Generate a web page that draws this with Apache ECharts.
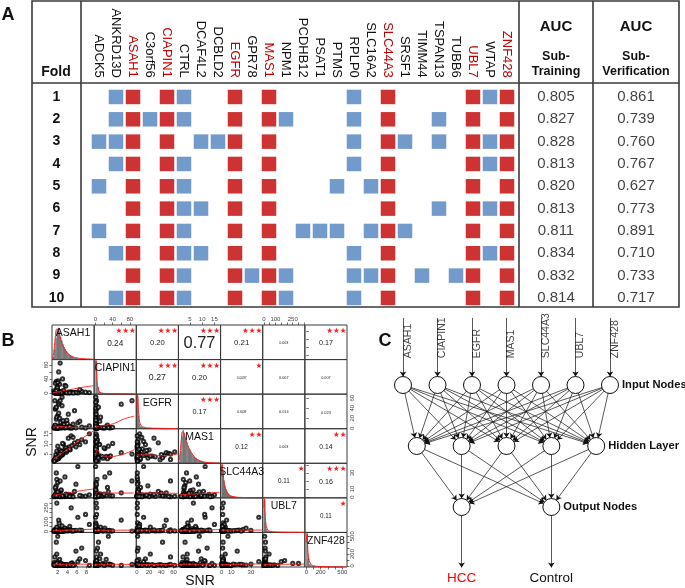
<!DOCTYPE html>
<html><head><meta charset="utf-8">
<script src="https://cdn.jsdelivr.net/npm/echarts@6/dist/echarts.min.js"></script>
<style>html,body{margin:0;padding:0;background:#fff}#c{width:685px;height:588px}</style>
</head><body><div id="c"></div>
<script>
// ---------------- Panel A data ----------------
const genes = ['ADCK5','ANKRD13D','ASAH1','C3orf56','CIAPIN1','CTRL','DCAF4L2','DCBLD2','EGFR','GPR78','MAS1','NPM1','PCDHB12','PSAT1','PTMS','RPLP0','SLC16A2','SLC44A3','SRSF1','TIMM44','TSPAN13','TUBB6','UBL7','WTAP','ZNF428'];
const coreGenes = ['ASAH1','CIAPIN1','EGFR','MAS1','SLC44A3','UBL7','ZNF428'];
const folds = ['1','2','3','4','5','6','7','8','9','10'];
const extraGenesByFold = [
  ['ANKRD13D','CTRL','RPLP0','WTAP'],
  ['ANKRD13D','C3orf56','CTRL','NPM1','RPLP0','TSPAN13'],
  ['ADCK5','ANKRD13D','DCAF4L2','DCBLD2','RPLP0','SRSF1','TSPAN13','WTAP'],
  ['ANKRD13D','CTRL','RPLP0','WTAP'],
  ['ADCK5','CTRL','PTMS','SLC16A2'],
  ['CTRL','DCAF4L2','TSPAN13','WTAP'],
  ['ADCK5','CTRL','PCDHB12','PSAT1','PTMS','SLC16A2','SRSF1'],
  ['ANKRD13D','CTRL','DCAF4L2','RPLP0','WTAP'],
  ['CTRL','GPR78','NPM1','RPLP0','SLC16A2','TIMM44','TUBB6'],
  ['ANKRD13D','CTRL','NPM1','RPLP0']
];
const aucColumns = ['Training','Verification'];
const aucTraining = [0.805,0.827,0.828,0.813,0.820,0.813,0.811,0.834,0.832,0.814];
const aucVerification = [0.861,0.739,0.760,0.767,0.627,0.773,0.891,0.710,0.733,0.717];

// ---------------- Panel B data (SNR per sample, read approximately) ----------------
const snrASAH1 = [1.5,1.8,2.0,1.6,2.2,1.9,1.4,2.4,1.7,2.1, 2.6,1.8,1.3,2.3,2.0,1.6,2.8,1.9,2.2,1.5,
  3.0,2.1,1.7,2.5,1.2,2.9,2.0,1.8,3.3,2.4, 1.6,2.2,3.6,1.9,2.7,1.4,2.3,4.0,1.7,2.6,
  3.1,2.0,4.4,1.8,3.4,2.5,5.0,2.2,3.8,1.5, 4.6,2.8,5.5,3.2,6.2,2.1,4.2,7.0,3.5,2.9,
  1.9,8.6,2.4,5.8,3.0,1.6,4.8,2.7,6.6,1.3, 2.2,3.7,1.8,5.2,2.5,7.8,3.9,2.0,4.5,1.7];
const snrCIAPIN1 = [1.2,0.8,2.5,0.5,1.8,3.0,0.9,1.5,4.2,0.6, 2.0,1.1,0.7,3.5,1.4,0.4,2.8,1.0,5.5,1.7,
  0.9,2.3,1.3,0.6,6.5,1.9,0.8,3.8,1.2,25, 1.6,0.5,2.1,18,1.0,2.6,0.7,1.4,33,0.9,
  3.2,1.2,0.6,12,2.0,0.8,1.5,60,1.1,28, 2.4,0.7,1.3,8,0.5,35,1.8,4.8,22,0.9,
  15,1.4,0.6,2.2,40,1.0,3.0,0.8,10,1.6, 0.7,20,1.9,0.5,85,2.7,1.1,30,0.6,7];
const snrEGFR = [1.0,2.2,0.6,3.5,1.4,0.8,5.0,1.8,0.5,2.6, 12,1.2,0.7,3.0,25,1.6,0.9,4.2,1.1,38,
  2.0,0.6,18,1.3,0.8,45,2.4,1.0,7.5,3.2, 0.9,30,1.5,0.5,2.8,55,1.1,9,0.7,2.1,
  15,1.9,0.6,22,1.2,3.8,0.8,48,1.4,6, 2.5,0.7,35,1.6,11,0.9,28,2.0,0.5,62,
  1.3,4.5,20,0.8,1.7,40,0.6,2.9,14,1.0, 52,1.5,0.9,8,55,0.6,16,1.2,3.6,42];
const snrMAS1 = [2.2,3.1,2.8,3.0,4.0,2.5,2.0,4.5,3.3,2.9, 4.2,2.4,1.8,3.6,3.9,2.6,5.0,3.2,2.7,2.1,
  5.5,3.4,2.9,4.8,1.6,4.4,3.0,2.3,6.2,3.8, 2.5,3.5,6.0,2.8,5.2,2.2,4.1,7.5,3.6,4.6,
  4.9,3.3,8.5,3.9,6.6,3.7,9.2,5.6,5.8,2.6, 7.0,4.5,10.5,9.8,11.2,4.0,12.8,12.0,7.6,6.0,
  3.8,15.0,7.0,8.5,10.2,4.6,14.0,6.3,9.6,1.4, 5.2,8.0,6.4,13.2,4.9,11.0,6.7,8.8,7.3,3.0];
const snrSLC44A3 = [1.5,0.8,2.4,1.1,3.2,0.6,1.9,4.5,0.9,2.7, 1.3,6.0,0.7,2.0,1.6,10,0.5,3.5,1.2,2.2,
  0.8,1.7,14,2.9,0.6,1.4,4.0,22,1.0,1.8, 3.0,0.9,2.3,1.2,8,0.5,1.6,2.6,30,0.7,
  1.9,18,1.1,3.8,0.6,2.1,1.4,5.2,0.8,12, 2.5,1.0,7,0.7,38,1.7,3.3,1.2,25,0.9,
  1.3,2.8,0.6,16,1.5,4.8,0.8,9,2.0,1.1, 0.7,3.6,1.8,0.5,20,1.2,2.4,6.5,0.9,1.6];
const snrUBL7 = [8,4,15,6,12,3,20,9,5,18, 11,7,2,25,10,5,14,40,6,9,
  4,16,8,12,3,60,7,22,10,5, 13,6,30,4,9,18,90,5,11,7,
  3,14,8,45,6,10,4,120,12,8, 20,5,9,7,150,3,16,11,35,6,
  9,75,4,13,7,10,250,5,15,8, 6,12,300,9,4,180,11,7,55,14];
const snrZNF428 = [15,30,8,22,12,45,6,18,35,10, 25,9,60,14,20,7,38,11,28,16,
  12,80,19,5,26,10,33,15,8,110, 21,6,14,40,9,150,17,12,30,7,
  11,24,8,200,16,13,50,6,19,28, 9,35,18,12,70,22,5,300,14,10,
  27,8,13,250,11,17,40,6,120,15, 18,10,40,7,23,90,12,500,16,400];
const snrSamples = [snrASAH1, snrCIAPIN1, snrEGFR, snrMAS1, snrSLC44A3, snrUBL7, snrZNF428];

const axisRanges = [[0.8,9.6],[-3,95],[-1,68],[0.3,17.5],[-1,42],[-10,355],[-20,565]];
const tickValues = [[2,4,6,8],[0,20,40,60,80],[0,20,40,60],[5,10,15],[0,10,20,30,40],[0,50,100,150,200,250,300,350],[0,100,200,300,400,500]];
const tickLabels = [[2,4,6,8],[0,40,80],[0,20,40,60],[5,10,15],[0,10,30],[0,100,250],[0,200,500]];

const histStart = [1.0,0,0,0.5,0,0,0];
const histWidth = [0.25,4,2,0.5,1,10,20];
const histMax = [100,220,190,115,160,210,210];
const histASAH1 = [8,30,62,85,92,80,66,55,44,36,30,24,19,15,12,10,8,6,5,4,3,3,2,2,2,1,1,1,1,1,0,1];
const histCIAPIN1 = [210,45,15,8,5,4,3,2,2,1,1,1,1,1,0,1,0,0,1,0,0,1];
const histEGFR = [180,70,25,12,8,6,5,4,3,3,2,2,2,1,1,1,1,1,1,1,1,1,0,1,0,1,0,1,0,1,1,0,1,0];
const histMAS1 = [5,40,90,110,100,85,70,58,48,40,33,27,22,18,15,12,10,8,6,5,4,3,3,2,2,1,1,1,1,1,1,0,1,0];
const histSLC44A3 = [150,120,80,55,40,30,22,16,12,9,7,6,5,4,3,3,2,2,2,1,1,1,1,1,1,0,1,0,0,1,0,1,0,0,1,0,0,0,1,0,1];
const histUBL7 = [200,60,20,10,6,4,3,2,2,1,1,1,1,0,1,0,1,0,0,1,0,0,1,0,0,1,0,0,0,1];
const histZNF428 = [200,50,18,9,6,4,3,2,2,1,1,1,1,0,1,0,0,1,0,0,1,0,0,0,1];
const histCounts = [histASAH1,histCIAPIN1,histEGFR,histMAS1,histSLC44A3,histUBL7,histZNF428];

const densityASAH1 = [[0.9,2],[1.2,25],[1.5,65],[1.8,88],[2.1,85],[2.4,70],[2.8,50],[3.2,36],[3.6,26],[4,19],[4.5,13],[5,9],[6,5],[7,3],[8,2],[9.5,1]];
const densityCIAPIN1 = [[0,150],[1,215],[3,120],[6,40],[10,15],[20,5],[40,2],[60,1],[92,0.5]];
const densityEGFR = [[0,120],[1,185],[3,80],[5,30],[8,14],[12,8],[20,4],[40,2],[67,1]];
const densityMAS1 = [[0.5,5],[1,35],[1.5,80],[2,105],[2.5,102],[3,88],[4,62],[5,44],[6,30],[7,20],[8,13],[10,6],[12,3],[15,1],[17,0.5]];
const densitySLC44A3 = [[0,100],[0.5,155],[1.5,120],[3,60],[5,32],[8,13],[12,6],[20,2],[41,0.5]];
const densityUBL7 = [[0,150],[5,205],[15,70],[30,20],[60,6],[100,3],[200,1],[350,0.5]];
const densityZNF428 = [[0,150],[10,205],[30,60],[60,20],[100,8],[200,3],[560,0.5]];
const densityLines = [densityASAH1,densityCIAPIN1,densityEGFR,densityMAS1,densitySLC44A3,densityUBL7,densityZNF428];

// smoothed fit lines for lower panels, row-major (row, col) with col < row
const fitLines = [
  [[1,1],[2,3],[3,6],[5,11],[7,16],[9.5,21]],
  [[1,4],[2,4],[3,3],[5,2],[7,1.5],[9.5,1]],
  [[0,2],[10,4],[25,6],[45,10],[65,18],[90,24]],
  [[1,2.2],[3,5.5],[5,9],[7,12.5],[9.5,16.5]],
  [[0,4],[5,7],[12,5],[25,3.5],[50,4],[90,7]],
  [[0,4.5],[20,4.5],[40,4],[67,5]],
  [[1,2.5],[3,4],[5,6],[7,8],[9.5,10]],
  [[0,2],[8,7],[20,5],[50,5],[90,5]],
  [[0,5],[30,5],[67,4.5]],
  [[0.5,3],[8,4],[17,6]],
  [[1,10],[5,15],[9.5,25]],
  [[0,12],[40,13],[90,15]],
  [[0,15],[30,15],[67,15]],
  [[0.5,12],[8,15],[17,20]],
  [[0,15],[20,15],[41,15]],
  [[1,25],[5,27],[9.5,30]],
  [[0,25],[40,25],[90,25]],
  [[0,25],[30,22],[67,20]],
  [[0.5,25],[8,27],[17,30]],
  [[0,20],[20,27],[41,35]],
  [[0,25],[150,27],[350,30]]
];
// upper panels, row-major (row, col) with col > row
const corrLabels = ['0.24','0.20','0.77','0.21','0.003','0.17','0.27','0.20','0.0097','0.007','0.007','0.17','0.008','0.014','0.023','0.12','0.003','0.14','0.11','0.16','0.11'];
const corrStars = ['***','***','***','***','','***','***','***','*','','','***','','','','**','','**','*','***','*'];

// ---------------- Panel C data ----------------
const outputClasses = ['HCC','Control'];
const layerNames = ['Input Nodes','Hidden Layer','Output Nodes'];
const hiddenCount = 5;

// ---------------- build ----------------
const FONT = '"Liberation Sans", Arial, sans-serif';
const grids=[], xAxes=[], yAxes=[], series=[], graphics=[];
const addGrid=g=>{grids.push(g);return grids.length-1;};
const addX=a=>{xAxes.push(a);return xAxes.length-1;};
const addY=a=>{yAxes.push(a);return yAxes.length-1;};
const hiddenAxis=(gi,extra)=>Object.assign({gridIndex:gi,show:false},extra);
function txt(text,x,y,o){
  o=o||{};
  graphics.push({type:'text',x,y,rotation:o.rotation||0,silent:true,z:50,
    style:{text,fill:o.color||'#111',font:(o.weight||'normal')+' '+o.size+'px '+(o.family||FONT),
      align:o.align||'center',verticalAlign:o.valign||'middle',textAlign:o.align||'center',textVerticalAlign:o.valign||'middle'}});
}
function line(x1,y1,x2,y2,w){
  graphics.push({type:'line',silent:true,z:40,shape:{x1,y1,x2,y2},style:{stroke:'#3a3a3a',lineWidth:w||1.6}});
}

// ---- Panel A ----
const RED='#c00000', BLUE='#4f81bd';
const gA = addGrid({left:90.5,top:85.8,width:425,height:223.3});
const xA = addX({gridIndex:gA,type:'category',position:'top',
  data:genes.map(g=>({value:g,textStyle:{color:coreGenes.includes(g)?RED:'#111'}})),
  axisLine:{show:false},axisTick:{show:false},splitLine:{show:false},
  axisLabel:{rotate:90,interval:0,fontSize:13,margin:8,fontFamily:FONT}});
const yA = addY({gridIndex:gA,type:'category',data:folds,inverse:true,
  axisLine:{show:false},axisTick:{show:false},splitLine:{show:false},
  axisLabel:{interval:0,fontSize:14,fontWeight:'bold',color:'#111',align:'center',margin:34,fontFamily:FONT}});
const coreData=[], extraData=[];
folds.forEach((f,i)=>{coreGenes.forEach(g=>coreData.push([g,f])); extraGenesByFold[i].forEach(g=>extraData.push([g,f]));});
series.push({type:'scatter',xAxisIndex:xA,yAxisIndex:yA,data:extraData,symbol:'rect',symbolSize:14.5,itemStyle:{color:BLUE},silent:true});
series.push({type:'scatter',xAxisIndex:xA,yAxisIndex:yA,data:coreData,symbol:'rect',symbolSize:14.5,itemStyle:{color:RED},silent:true});

const gAuc = addGrid({left:516,top:85.8,width:160,height:223.3});
const xAuc = addX(hiddenAxis(gAuc,{type:'category',data:aucColumns}));
const yAuc = addY(hiddenAxis(gAuc,{type:'category',data:folds,inverse:true}));
const aucData=[];
folds.forEach((f,i)=>{aucData.push([aucColumns[0],f,aucTraining[i]]); aucData.push([aucColumns[1],f,aucVerification[i]]);});
series.push({type:'scatter',xAxisIndex:xAuc,yAxisIndex:yAuc,data:aucData,symbolSize:0,silent:true,
  label:{show:true,position:'inside',formatter:p=>p.value[2].toFixed(3),fontSize:15,color:'#111',fontFamily:FONT}});

graphics.push({type:'rect',silent:true,z:40,shape:{x:32,y:1,width:647,height:306},style:{fill:'none',stroke:'#3a3a3a',lineWidth:1.6}});
line(81,1,81,307); line(519,1,519,307); line(593,1,593,307); line(32,83,679,83);
txt('Fold',56,72,{size:14,weight:'bold'});
[556,636].forEach((cx,i)=>{
  txt('AUC',cx,27,{size:15,weight:'bold'});
  txt('Sub-',cx,57,{size:12.5,weight:'bold'});
  txt(aucColumns[i],cx,72,{size:12.5,weight:'bold'});
});
txt('A',8,15,{size:18,weight:'bold'});
txt('B',8,341,{size:18,weight:'bold'});
txt('C',385,341,{size:18,weight:'bold'});

// ---- Panel B ----
const B_LEFT=52, B_TOP=325, CW=295/7, RH=242/7, BRED='#ff1a1a';
function valAxis(gi,k,position,show,isY,hideLabels){
  return {gridIndex:gi,type:'value',min:axisRanges[k][0],max:axisRanges[k][1],position,show,
    axisLine:{show:false},splitLine:{show:false},
    axisTick:{show:true,inside:false,length:2.5,lineStyle:{color:'#333',width:0.7},customValues:tickValues[k]},
    axisLabel:{show:!hideLabels,fontSize:6,color:'#444',margin:2.5,rotate:isY?90:0,customValues:tickLabels[k],fontFamily:FONT}};
}
let lowerIdx=0, upperIdx=0;
for(let r=0;r<7;r++){
  for(let c=0;c<7;c++){
    const left=B_LEFT+c*CW, top=B_TOP+r*RH;
    const gi=addGrid({left,top,width:CW,height:RH,show:true,borderColor:'#3a3a3a',borderWidth:1,backgroundColor:'rgba(0,0,0,0)'});
    const showTop=r===0&&c%2===1, showBottom=r===6&&c%2===0;
    const xi=addX(valAxis(gi,c,showTop?'top':'bottom',showTop||showBottom,false,false));
    const showLeft=c===0&&r%2===1, showRight=c===6&&r%2===0;
    if(r===c){
      const yh=addY({gridIndex:gi,type:'value',min:0,max:histMax[r],show:false});
      addY(valAxis(gi,r,'right',showRight,true,r===0));
      const w=histWidth[r], s=histStart[r];
      const bw=CW*w/(axisRanges[r][1]-axisRanges[r][0]);
      series.push({type:'bar',xAxisIndex:xi,yAxisIndex:yh,silent:true,barWidth:Math.max(bw-0.2,0.8),
        data:histCounts[r].map((v,i)=>[s+(i+0.5)*w,v]),
        itemStyle:{color:'#a0a0a0',borderColor:'#222',borderWidth:0.35}});
      series.push({type:'line',xAxisIndex:xi,yAxisIndex:yh,silent:true,data:densityLines[r],smooth:true,showSymbol:false,
        lineStyle:{color:BRED,width:1},clip:true});
      txt(coreGenes[r],left+CW/2,top+8.5,{size:10.5,color:'#111'});
    } else {
      const yi=addY(valAxis(gi,r,showLeft?'left':'right',showLeft||showRight,true,r===0));
      if(r>c){
        series.push({type:'scatter',xAxisIndex:xi,yAxisIndex:yi,silent:true,clip:true,symbol:'emptyCircle',symbolSize:3.2,
          data:snrSamples[c].map((v,i)=>[v,snrSamples[r][i]]),itemStyle:{color:'#000',borderColor:'#000',borderWidth:0.6}});
        series.push({type:'line',xAxisIndex:xi,yAxisIndex:yi,silent:true,data:fitLines[lowerIdx],smooth:true,showSymbol:false,
          lineStyle:{color:BRED,width:0.9},clip:true});
        lowerIdx++;
      } else {
        const lab=corrLabels[upperIdx], rv=Math.abs(parseFloat(lab));
        const fs=20*(rv+0.3)/1.3*(4/lab.length);
        txt(lab,left+CW/2,top+RH/2+1,{size:fs.toFixed(2),color:'#222'});
        if(corrStars[upperIdx]) txt(corrStars[upperIdx].replace(/\*/g,'\u2605'),left+CW-0.5,top+2,{size:7.5,color:BRED,align:'right',valign:'top',family:'"DejaVu Sans", sans-serif'});
        upperIdx++;
      }
    }
  }
}
txt('SNR',32,442,{size:14,rotation:Math.PI/2});
txt('SNR',200,581,{size:14});

// ---- Panel C ----
const gC = addGrid({left:403,top:324,width:207,height:244});
const xC = addX(hiddenAxis(gC,{type:'value',min:0,max:6}));
const yC = addY(hiddenAxis(gC,{type:'value',min:0,max:4,inverse:true}));
const hiddenX=[0.4,1.7,3,4.3,5.6], outputX=[1.7,4.3];
const invisible={symbolSize:1,itemStyle:{color:'rgba(0,0,0,0)',borderWidth:0}};
const layerLabel=t=>({show:true,position:'right',distance:3,formatter:t,fontSize:11.2,fontWeight:'bold',color:'#111',fontFamily:FONT});
const nodes=[], links=[];
coreGenes.forEach((g,i)=>{
  nodes.push(Object.assign({name:'top'+i,value:[i,-0.1]},invisible));
  nodes.push({name:'in'+i,value:[i,1],label:i===coreGenes.length-1?layerLabel(layerNames[0]):{show:false}});
  links.push({source:'top'+i,target:'in'+i});
});
for(let j=0;j<hiddenCount;j++){
  nodes.push({name:'h'+j,value:[hiddenX[j],2],label:j===hiddenCount-1?layerLabel(layerNames[1]):{show:false}});
  coreGenes.forEach((g,i)=>links.push({source:'in'+i,target:'h'+j}));
}
outputClasses.forEach((o,k)=>{
  nodes.push({name:'o'+k,value:[outputX[k],3],label:k===outputClasses.length-1?layerLabel(layerNames[2]):{show:false}});
  for(let j=0;j<hiddenCount;j++) links.push({source:'h'+j,target:'o'+k});
  nodes.push(Object.assign({name:'end'+k,value:[outputX[k],4],
    label:{show:true,position:'bottom',distance:3,formatter:o,fontSize:13.5,color:k===0?'#ff0000':'#111',fontFamily:FONT}},invisible));
  links.push({source:'o'+k,target:'end'+k});
});
series.push({type:'graph',coordinateSystem:'cartesian2d',xAxisIndex:xC,yAxisIndex:yC,silent:true,
  symbol:'circle',symbolSize:17,itemStyle:{color:'#fff',borderColor:'#111',borderWidth:1},
  edgeSymbol:['none','arrow'],edgeSymbolSize:[0,5],lineStyle:{color:'#111',width:0.7,opacity:1,curveness:0},
  label:{show:false},emphasis:{disabled:true},data:nodes,links:links,z:5});
series.push({type:'scatter',xAxisIndex:xC,yAxisIndex:yC,silent:true,symbolSize:0,
  data:coreGenes.map((g,i)=>[i,0.56,g]),
  label:{show:true,position:'right',distance:5,rotate:90,formatter:p=>p.value[2],fontSize:10.5,color:'#111',fontFamily:FONT}});

const chart = echarts.init(document.getElementById('c'));
chart.setOption({animation:false,backgroundColor:'#fff',textStyle:{fontFamily:FONT},
  grid:grids,xAxis:xAxes,yAxis:yAxes,series,graphic:{elements:graphics}});
</script></body></html>
